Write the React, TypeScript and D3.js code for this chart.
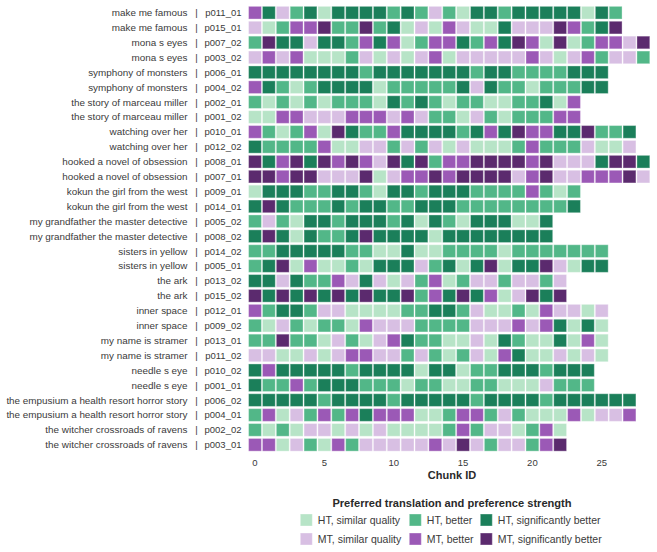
import * as d3 from "d3";
import React from "react";

// one row per participant reading of a novel, top to bottom
const novels = [
  "make me famous", "make me famous", "mona s eyes", "mona s eyes",
  "symphony of monsters", "symphony of monsters", "the story of marceau miller", "the story of marceau miller",
  "watching over her", "watching over her", "hooked a novel of obsession", "hooked a novel of obsession",
  "kokun the girl from the west", "kokun the girl from the west", "my grandfather the master detective", "my grandfather the master detective",
  "sisters in yellow", "sisters in yellow", "the ark", "the ark",
  "inner space", "inner space", "my name is stramer", "my name is stramer",
  "needle s eye", "needle s eye", "the empusium a health resort horror story", "the empusium a health resort horror story",
  "the witcher crossroads of ravens", "the witcher crossroads of ravens",
]

const participants = [
  "p011_01", "p015_01", "p007_02", "p003_02", "p006_01", "p004_02", "p002_01", "p001_02",
  "p010_01", "p012_02", "p008_01", "p007_01", "p009_01", "p014_01", "p005_02", "p008_02",
  "p014_02", "p005_01", "p013_02", "p015_02", "p012_01", "p009_02", "p013_01", "p011_02",
  "p010_02", "p001_01", "p006_02", "p004_01", "p002_02", "p003_01",
]

// a/b/c = HT similar/better/significantly better, x/y/z = the same for MT; one char per chunk
const preferences = [
  "ycxbcaccccbcbxbaccbcccccacb",
  "xabyyzbbzbcaxayxaacxxxzybcz",
  "bzccxccbycyabyycbyczyazabyyxz",
  "xyxyaaabxaxaxyaxxxxxyxaxybxxb",
  "ccccccccbcccccccbccbbbbccc",
  "ycbabccccabbbbbcxcbbabbbcc",
  "babababbbacbcbabbaabbcay",
  "aayyxxxyyyxyxbbaxbabbbyy",
  "ybabyazcbbyccccbcyczyycczbbc",
  "cbbbbyaaxxbxbxaxaaabybbbxaax",
  "zcyzczyzyxzczbyyzzzzyzxxxczzc",
  "zzyzzxxxzaxyyzyzzzzxyzxxyyyzx",
  "acccbbccbaccbcccbbbbybab",
  "czcbbbcbccbbcccbbbbbbbbc",
  "bxbaccbcccbcacbacccaac",
  "czcacbbczccccacccccccc",
  "bbcccccbbaacaabbbbabbbbbbb",
  "bczayaabacccxbcaczacczxacc",
  "ccxcbbyxcxaxbyabxxbxxbx",
  "zczczczczcczbyczcyaxzcz",
  "ybccbxxaaaabbccbxaabayxxax",
  "baxbabbayxxxbbbbxxxyxycaca",
  "bbzbbaxbaxycbbaaxacbaacaya",
  "xxaaxaxyyxxbxbabxaycaaxaxa",
  "cycccccbccccaccabbcccbccc",
  "cbbybcccbbbabbaabbaaaxbbb",
  "cccccbccccbcccccbccccbcccccc",
  "byaxbybycyyyaabyybxbaaayaxxy",
  "babaxxaxaxaaaabybxxabya",
  "yyaxbaybxxxxxyxzxbxxbyz",
]

const prefCodes = ["a", "b", "c", "x", "y", "z"]
const prefNames = [
  "HT, similar quality", "HT, better", "HT, significantly better",
  "MT, similar quality", "MT, better", "MT, significantly better",
]
const prefColors = ["#b7e4c7", "#52b788", "#1b7f5a", "#d8bfe3", "#9b59b6", "#5b2a6e"]
const chunkTicks = [0, 5, 10, 15, 20, 25]

const W = 657
const H = 552
const font = "'Liberation Sans', Arial, Helvetica, sans-serif"

const App: React.FC = () => {
  const nCols = d3.max(preferences, (p) => p.length) || 0
  const x = d3.scaleBand<number>(d3.range(nCols), [248.07, 248.07 + nCols * 13.87])
  const y = d3.scaleBand<number>(d3.range(preferences.length), [5.25, 5.25 + preferences.length * 14.9])
  const color = d3.scaleOrdinal<string, string>(prefCodes, prefColors)

  const cells = preferences.flatMap((row, i) =>
    row.split("").map((code, j) => ({ i, j, code }))
  )

  const legendCols = [300.3, 409.3, 480.3]
  const legendRows = [514, 533]

  return (
    <svg width={W} height={H} style={{ position: "absolute", left: 0, top: 0, background: "#fff" }} fontFamily={font}>
      <g>
        {cells.map((d) => (
          <rect
            key={d.i + "-" + d.j}
            x={(x(d.j) || 0) + 0.5}
            y={(y(d.i) || 0) + 1.1}
            width={x.bandwidth() - 1}
            height={y.bandwidth() - 2.2}
            fill={color(d.code)}
            stroke="#fff"
            strokeOpacity={0.35}
            strokeWidth={1}
          />
        ))}
      </g>
      <g fill="#3a3a3a">
        {novels.map((n, i) => {
          const cy = (y(i) || 0) + y.bandwidth() / 2 + 3.4
          return (
            <g key={"lab" + i}>
              <text x={187.5} y={cy} textAnchor="end" fontSize={9.9}>{n}</text>
              <text x={196.5} y={cy} textAnchor="middle" fontSize={9.5}>|</text>
              <text x={241.5} y={cy} textAnchor="end" fontSize={9.5}>{participants[i]}</text>
            </g>
          )
        })}
      </g>
      <g fontSize={9.5} fill="#3a3a3a">
        {chunkTicks.map((t) => (
          <text key={"t" + t} x={(x(t) || 0) + x.bandwidth() / 2} y={465.5} textAnchor="middle">{t}</text>
        ))}
      </g>
      <text x={452} y={479} textAnchor="middle" fontSize={11} fontWeight="bold" fill="#2a2a2a">Chunk ID</text>
      <text x={452} y={507} textAnchor="middle" fontSize={11.1} fontWeight="bold" fill="#2a2a2a">
        Preferred translation and preference strength
      </text>
      <g fontSize={10.5} fill="#3a3a3a">
        {prefNames.map((name, k) => {
          const lx = legendCols[k % 3]
          const ly = legendRows[Math.floor(k / 3)]
          return (
            <g key={"lg" + k}>
              <rect x={lx} y={ly} width={12} height={12} fill={prefColors[k]} stroke="#fff" strokeOpacity={0.35} />
              <text x={lx + 17.5} y={ly + 9.5}>{name}</text>
            </g>
          )
        })}
      </g>
    </svg>
  )
}

export default App
